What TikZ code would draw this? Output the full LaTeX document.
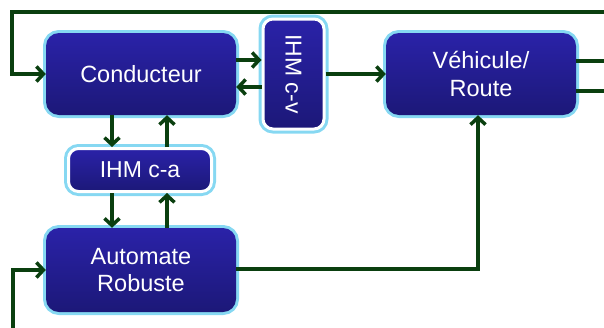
\documentclass[tikz,border=0pt]{standalone}
\usepackage{fontspec}
\setmainfont{Liberation Sans}
\usetikzlibrary{arrows.meta,calc}
\definecolor{boxtop}{HTML}{2A22A8}
\definecolor{boxbot}{HTML}{1C1878}
\definecolor{glowc}{HTML}{86D8F2}
\definecolor{arrc}{HTML}{0A3F0F}
\begin{document}
\begin{tikzpicture}[x=1pt,y=-1pt,
  bigbox/.style={rounded corners=13pt, top color=boxtop, bottom color=boxbot,
    text=white, align=center, inner sep=0pt,
    font=\fontsize{23.5}{27.5}\selectfont,
    preaction={draw=glowc, line width=6pt}},
  ihmbox/.style={rounded corners=10pt, top color=boxtop, bottom color=boxbot,
    draw=white, line width=3pt, text=white, align=center, inner sep=0pt,
    font=\fontsize{23}{27.5}\selectfont,
    preaction={draw=glowc, line width=9pt}},
  arr/.style={draw=arrc, line width=3.5pt, -{Straight Barb[length=7pt,width=15pt]}},
  ln/.style={draw=arrc, line width=3.5pt}]
\useasboundingbox (0,0) rectangle (604,327);

\node[bigbox, minimum width=190pt, minimum height=82pt] (cond) at (141,74) {Conducteur};
\node[bigbox, minimum width=190pt, minimum height=82pt] (veh) at (481,74) {Véhicule/\\Route};
\node[bigbox, minimum width=190pt, minimum height=84pt] (auto) at (141,270) {Automate\\Robuste};
\node[ihmbox, minimum width=143pt, minimum height=43pt] (ihmca) at (140,170) {IHM c-a};
\node[ihmbox, minimum width=61pt, minimum height=110pt] (ihmcv) at (293.5,74) {\rotatebox{-90}{IHM c-v}};

\coordinate (xl) at (112,0);
\coordinate (xr) at (167,0);
\coordinate (y1) at (0,60);
\coordinate (y2) at (0,87);
\coordinate (xv) at (478,269);
\coordinate (r1) at (606,61);
\coordinate (r2) at (606,91);
\coordinate (t0) at (606,12);
\coordinate (t1) at (12,12);
\coordinate (b0) at (13,330);

\draw[arr] (cond.south -| xl) -- (ihmca.north -| xl);
\draw[arr] (ihmca.north -| xr) -- (cond.south -| xr);
\draw[arr] (ihmca.south -| xl) -- (auto.north -| xl);
\draw[arr] (auto.north -| xr) -- (ihmca.south -| xr);
\draw[arr] (cond.east |- y1) -- (ihmcv.west |- y1);
\draw[arr] (ihmcv.west |- y2) -- (cond.east |- y2);
\draw[arr] (ihmcv.east) -- (veh.west |- ihmcv.east);
\draw[arr] (auto.east |- xv) -- (xv) -- (veh.south -| xv);
\draw[ln] (veh.east |- r1) -- (r1);
\draw[ln] (veh.east |- r2) -- (r2);
\draw[arr] (t0) -- (t1) |- (cond.west);
\draw[arr] (b0) |- (auto.west);
\end{tikzpicture}
\end{document}
